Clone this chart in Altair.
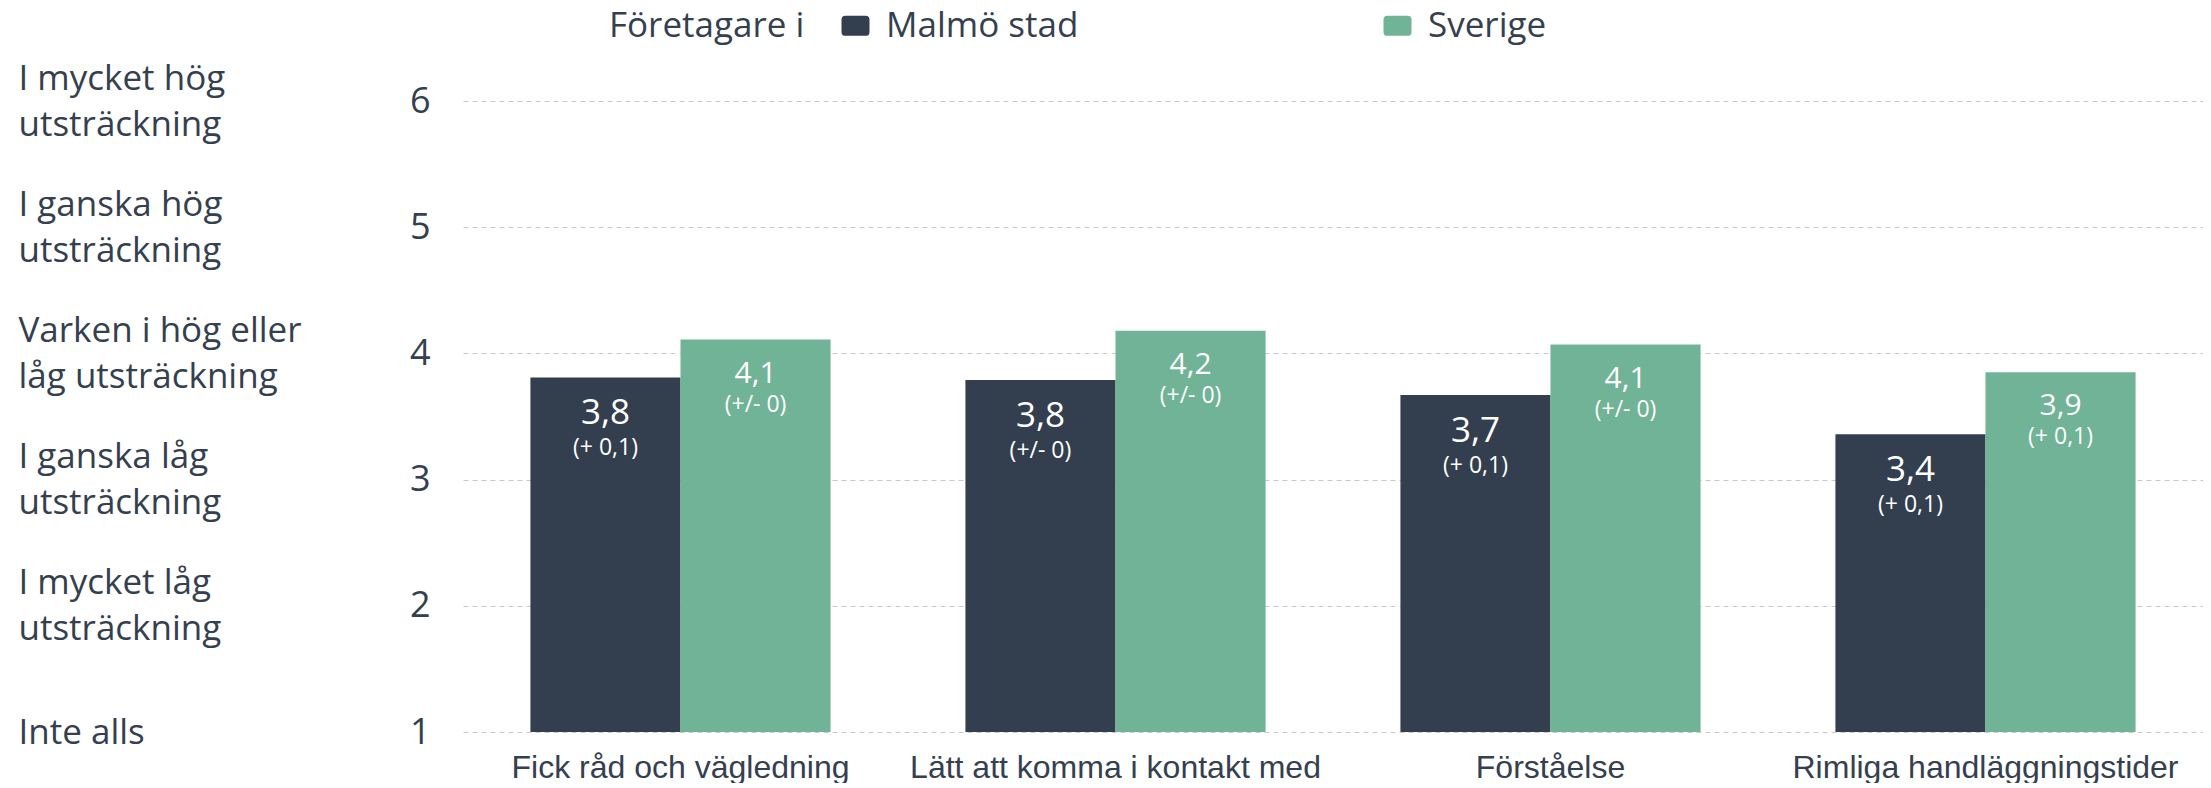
import json
import altair as alt
import pandas as pd

categories = ["Fick råd och vägledning", "Lätt att komma i kontakt med", "Förståelse", "Rimliga handläggningstider"]
series = ["Malmö stad", "Sverige"]
malmo_values = [3.81, 3.79, 3.67, 3.36]
sverige_values = [4.11, 4.18, 4.07, 3.85]
malmo_labels = ["3,8", "3,8", "3,7", "3,4"]
malmo_changes = ["(+ 0,1)", "(+/- 0)", "(+ 0,1)", "(+ 0,1)"]
sverige_labels = ["4,1", "4,2", "4,1", "3,9"]
sverige_changes = ["(+/- 0)", "(+/- 0)", "(+/- 0)", "(+ 0,1)"]
scale_ticks = [1, 2, 3, 4, 5, 6]
scale_labels = [
    ["Inte alls"],
    ["I mycket låg", "utsträckning"],
    ["I ganska låg", "utsträckning"],
    ["Varken i hög eller", "låg utsträckning"],
    ["I ganska hög", "utsträckning"],
    ["I mycket hög", "utsträckning"],
]
colors = ["#333f4e", "#70b396"]
TEXT = "#34404f"

rows = []
for i, c in enumerate(categories):
    rows.append(dict(category=c, series=series[0], value=malmo_values[i],
                     label=malmo_labels[i], change=malmo_changes[i]))
    rows.append(dict(category=c, series=series[1], value=sverige_values[i],
                     label=sverige_labels[i], change=sverige_changes[i]))
df = pd.DataFrame(rows)

base = alt.Chart(df)

x = alt.X("category:N", sort=categories,
          scale=alt.Scale(paddingInner=0.31, paddingOuter=0.155),
          axis=alt.Axis(title=None, labelFont="Liberation Sans", labelFontSize=32,
                        labelColor=TEXT, labelPadding=20, ticks=False, tickSize=0,
                        domain=False, labelAngle=0, labelLimit=600))
xoff = alt.XOffset("series:N", sort=series, scale=alt.Scale(domain=series))
y_scale = alt.Scale(domain=[1, 6], nice=False, zero=False)

num_axis = alt.Axis(orient="left", values=scale_ticks, format="d", title=None,
                    labelFont="Open Sans", labelFontSize=36, labelColor=TEXT,
                    labelPadding=33, ticks=False, tickSize=0, domain=False,
                    labelFlush=False, labelOverlap=False,
                    grid=True, gridDash=[5, 4], gridColor="#c8c8c8", gridWidth=1)

text_axis = alt.Axis(orient="left", values=scale_ticks, title=None,
                     labelExpr=json.dumps(scale_labels, ensure_ascii=False) + "[datum.value - 1]",
                     labelAlign="left", labelBaseline="middle", labelPadding=445,
                     labelOffset=alt.condition("datum.value == 1", alt.value(0), alt.value(-23)),
                     labelFont="Open Sans", labelFontSize=35, labelColor=TEXT,
                     labelLineHeight=46, labelLimit=600, labelFlush=False,
                     labelOverlap=False, ticks=False, tickSize=0, domain=False, grid=False)

sym_path = ("M -0.72,-0.72 H 0.72 Q 1,-0.72 1,-0.44 V 0.44 Q 1,0.72 0.72,0.72 "
            "H -0.72 Q -1,0.72 -1,0.44 V -0.44 Q -1,-0.72 -0.72,-0.72 Z")

legend = alt.Legend(title="Företagare i", orient="none", legendX=146, legendY=-93,
                    direction="horizontal", titleOrient="left",
                    titleFont="Open Sans", titleFontSize=35, titleFontWeight="normal",
                    titleColor=TEXT, titlePadding=33, titleLimit=600,
                    labelFont="Open Sans", labelFontSize=35, labelColor=TEXT,
                    labelLimit=600, symbolType=sym_path, symbolSize=784,
                    symbolStrokeWidth=0, symbolOpacity=1, labelOffset=13,
                    columnPadding=301)

bars = base.mark_bar().encode(
    x=x,
    xOffset=xoff,
    y=alt.Y("value:Q", scale=y_scale, axis=num_axis),
    y2=alt.datum(1),
    color=alt.Color("series:N", scale=alt.Scale(domain=series, range=colors), legend=legend),
)


def text_layer(s, field, size, dy, axis):
    return base.transform_filter(alt.datum.series == s).mark_text(
        color="white", font="Open Sans", fontSize=size, baseline="alphabetic",
        align="center", dy=dy,
    ).encode(
        x=x,
        xOffset=xoff,
        y=alt.Y("value:Q", scale=y_scale, axis=axis),
        text=alt.Text(f"{field}:N"),
    )


t1 = text_layer(series[0], "label", 35, 47, text_axis)
t2 = text_layer(series[0], "change", 23, 78, None)
t3 = text_layer(series[1], "label", 30, 43, None)
t4 = text_layer(series[1], "change", 23, 72, None)

chart = alt.layer(bars, t1, t2, t3, t4).resolve_axis(y="independent").properties(
    width=1740, height=631,
    padding={"left": 10, "top": 0, "right": 0, "bottom": 0},
    background="white",
).configure_view(stroke=None)

chart.save("out.html", embed_options={"renderer": "svg", "actions": False})
